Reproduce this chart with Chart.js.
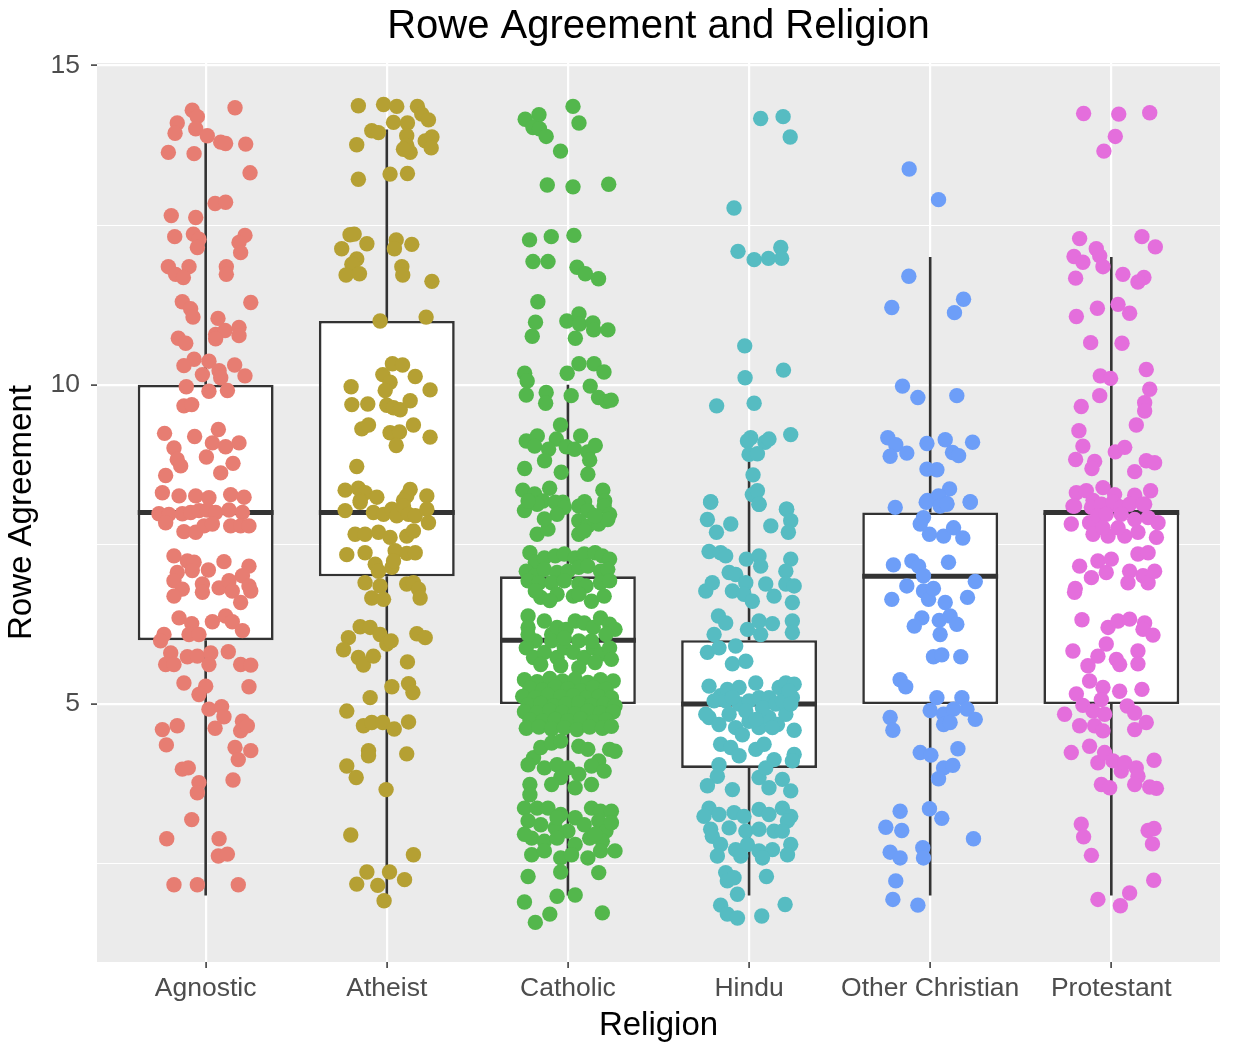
<!DOCTYPE html>
<html>
<head>
<meta charset="utf-8">
<title>Rowe Agreement and Religion</title>
<script src="https://cdn.jsdelivr.net/npm/chart.js@4.4.1/dist/chart.umd.min.js"></script>
<style>
  html, body { margin: 0; padding: 0; background: #ffffff; }
  canvas { display: block; }
</style>
</head>
<body>
<canvas id="myChart" width="1233" height="1057"></canvas>
<script>
// categories and box statistics
const religions = ["Agnostic", "Atheist", "Catholic", "Hindu", "Other Christian", "Protestant"];
const whiskerLow = [2, 2, 2, 2, 2, 2];
const q1 = [6, 7, 5, 4, 5, 5];
const medians = [8, 8, 6, 5, 7, 8];
const q3 = [10, 11, 7, 6, 8, 8];
const whiskerHigh = [13.85, 14, 10, 8.8, 12, 12];

// y axis ticks
const yMajor = [5, 10, 15];
const yMinor = [2.5, 7.5, 12.5];

// jittered points: [offset from category, value]
const agnosticPts = [
  [-0.074,14.30],[-0.046,14.20],[0.162,14.34],[-0.157,14.10],[-0.169,13.94],[-0.055,14.01],[0.009,13.90],[0.083,13.80],
  [0.110,13.78],[0.221,13.77],[-0.206,13.64],[-0.064,13.62],[0.245,13.32],[0.052,12.84],[0.110,12.86],[-0.190,12.65],
  [-0.055,12.62],[-0.171,12.32],[-0.068,12.36],[-0.037,12.28],[-0.046,12.15],[0.217,12.34],[0.184,12.23],[0.193,12.07],
  [-0.206,11.85],[-0.092,11.85],[-0.166,11.73],[-0.123,11.68],[0.114,11.85],[0.114,11.73],[-0.129,11.30],[-0.083,11.19],
  [-0.070,11.06],[0.249,11.29],[0.068,11.04],[0.055,10.79],[0.107,10.85],[0.055,10.72],[0.184,10.90],[0.184,10.77],
  [-0.151,10.73],[-0.110,10.65],[-0.064,10.40],[-0.120,10.30],[0.018,10.37],[-0.018,10.16],[0.074,10.22],[0.083,10.11],
  [0.160,10.31],[0.217,10.14],[-0.107,9.97],[0.018,9.90],[0.120,9.91],[-0.120,9.67],[-0.077,9.69],[-0.227,9.24],
  [-0.061,9.19],[0.070,9.30],[0.037,9.09],[0.110,9.03],[0.184,9.09],[-0.175,9.01],[-0.157,8.83],[-0.138,8.73],
  [0.004,8.87],[0.151,8.77],[-0.221,8.58],[0.083,8.62],[-0.239,8.31],[-0.147,8.26],[-0.055,8.26],[0.018,8.23],
  [0.138,8.28],[0.212,8.24],
  [-0.258,7.98],[-0.203,7.97],[-0.129,7.98],[-0.083,8.00],[-0.037,8.03],[0.009,8.04],[0.055,8.00],[0.129,8.04],
  [0.203,8.00],[-0.221,7.84],[-0.120,7.70],[-0.055,7.69],[-0.009,7.79],[0.037,7.82],[0.138,7.79],[0.193,7.79],
  [0.239,7.79],[-0.175,7.32],[-0.101,7.24],[-0.064,7.22],[-0.157,7.06],[-0.074,7.09],[0.015,7.10],[0.101,7.23],
  [0.239,7.16],[0.203,7.01],[-0.175,6.93],[-0.129,6.80],[-0.018,6.88],[-0.018,6.75],[-0.175,6.69],[0.074,6.82],
  [0.129,6.93],[0.147,6.77],[0.239,6.85],[0.249,6.77],[0.193,6.59],[-0.147,6.35],[-0.077,6.26],[-0.092,6.09],
  [-0.037,6.09],[0.037,6.29],[0.110,6.38],[0.147,6.29],[0.203,6.15],[-0.230,6.09],[-0.249,5.99],[-0.193,5.80],
  [-0.221,5.62],[-0.175,5.62],[-0.101,5.74],[-0.046,5.75],[0.028,5.80],[0.018,5.62],[0.125,5.82],[0.193,5.62],
  [0.249,5.61],[-0.120,5.33],[0.000,5.28],[-0.037,5.15],[0.239,5.27],[0.018,4.92],[0.088,4.96],[0.101,4.80],
  [0.052,4.62],[-0.239,4.60],[-0.157,4.66],[-0.217,4.36],[0.203,4.73],[0.193,4.58],[0.230,4.66],[0.162,4.32],
  [0.180,4.13],[0.249,4.27],[-0.129,3.98],[-0.096,4.00],[-0.037,3.77],[-0.046,3.61],[0.151,3.81],[-0.077,3.19],
  [-0.215,2.89],[0.074,2.89],[0.070,2.62],[0.120,2.65],[-0.175,2.17],[-0.046,2.17],[0.180,2.17]
];

const atheistPts = [
  [-0.157,14.37],[-0.018,14.39],[0.055,14.36],[0.169,14.36],[0.193,14.24],[0.230,14.15],[0.037,14.11],[0.114,14.10],
  [-0.083,13.98],[-0.046,13.95],[-0.166,13.76],[0.110,13.90],[0.110,13.75],[0.129,13.64],[0.092,13.69],[0.212,13.82],
  [0.249,13.88],[0.245,13.71],[-0.157,13.22],[0.018,13.30],[0.114,13.31],[-0.203,12.35],[-0.180,12.36],[-0.249,12.13],
  [-0.110,12.21],[0.052,12.27],[0.042,12.13],[0.138,12.20],[-0.166,11.97],[-0.193,11.89],[-0.225,11.72],[-0.151,11.74],
  [0.083,11.85],[0.088,11.72],[0.249,11.62],[-0.037,11.00],[0.217,11.06],[0.031,10.33],[0.087,10.31],[-0.022,10.16],
  [0.018,10.04],[0.157,10.13],[-0.009,9.91],[-0.197,9.97],[0.239,9.92],[-0.193,9.69],[-0.105,9.70],[0.000,9.68],
  [0.037,9.64],[0.074,9.61],[0.129,9.75],[-0.138,9.31],[-0.101,9.37],[0.018,9.25],[0.070,9.26],[0.052,9.05],
  [0.147,9.37],[0.239,9.18],[-0.166,8.72],[-0.230,8.35],[-0.157,8.38],[-0.120,8.31],[-0.055,8.24],[-0.147,8.19],
  [0.129,8.36],[0.110,8.26],[0.092,8.19],[0.221,8.26],
  [-0.230,8.03],[-0.147,8.16],[-0.074,8.00],[-0.018,7.97],[0.028,8.05],[0.055,7.95],[0.092,8.10],[0.120,7.97],
  [0.157,7.95],[0.221,8.05],[0.230,7.84],[-0.175,7.66],[-0.120,7.66],[-0.046,7.69],[0.018,7.61],[0.110,7.63],
  [0.147,7.71],[-0.221,7.34],[-0.120,7.37],[0.046,7.40],[0.110,7.36],[0.157,7.37],[-0.064,7.19],[-0.046,7.08],
  [0.028,7.14],[0.037,7.24],[-0.120,6.90],[-0.037,6.85],[-0.083,6.66],[-0.018,6.64],[0.110,6.88],[0.147,6.90],
  [0.175,6.80],[0.184,6.66],[-0.147,6.21],[-0.092,6.20],[-0.212,6.04],[-0.239,5.85],[-0.037,6.09],[0.000,5.94],
  [0.024,5.99],[0.166,6.10],[0.212,6.04],[-0.157,5.73],[-0.129,5.61],[-0.074,5.75],[0.114,5.66],[0.028,5.27],
  [0.120,5.32],[0.144,5.18],[-0.092,5.10],[-0.221,4.89],[-0.129,4.66],[-0.083,4.71],[-0.022,4.71],[0.041,4.61],
  [0.120,4.72],[-0.101,4.27],[-0.101,4.19],[0.110,4.22],[-0.221,4.03],[-0.169,3.85],[-0.004,3.66],[-0.199,2.95],
  [0.147,2.64],[-0.110,2.37],[0.015,2.37],[-0.166,2.18],[-0.050,2.16],[0.098,2.25],[-0.015,1.92]
];

const catholicPts = [
  [0.028,14.36],[-0.160,14.23],[-0.236,14.16],[-0.193,14.03],[-0.157,14.01],[-0.120,13.89],[0.061,14.10],[-0.041,13.66],
  [-0.114,13.13],[0.028,13.10],[0.225,13.14],[-0.212,12.27],[-0.092,12.32],[0.033,12.34],[-0.193,11.93],[-0.110,11.93],
  [0.050,11.84],[0.096,11.74],[0.169,11.66],[-0.166,11.30],[-0.179,10.98],[-0.197,10.76],[-0.006,11.00],[0.061,11.11],
  [0.064,10.95],[0.138,10.97],[0.142,10.86],[0.221,10.86],[0.041,10.73],[-0.239,10.18],[-0.225,10.06],[-0.004,10.18],
  [0.061,10.33],[0.144,10.33],[0.199,10.20],[-0.230,9.84],[-0.120,9.88],[-0.123,9.71],[0.018,9.83],[0.123,9.98],
  [0.169,9.80],[0.212,9.74],[0.239,9.76],[-0.041,9.37],[-0.230,9.12],[-0.169,9.20],[-0.184,9.04],[-0.064,9.15],
  [-0.107,8.99],[-0.129,8.81],[-0.009,9.03],[0.037,8.99],[0.070,9.20],[0.110,8.95],[0.151,9.05],[0.120,8.82],
  [0.110,8.60],[-0.239,8.69],[-0.037,8.63],[-0.249,8.35],[-0.184,8.29],[-0.101,8.38],[-0.138,8.18],[-0.028,8.16],
  [0.092,8.17],[0.193,8.35],[0.203,8.18],
  [-0.24,8.03],[-0.17,8.13],[-0.07,8.16],[-0.02,8.08],[0.06,8.10],[0.11,8.03],[0.20,8.10],[0.23,7.97],
  [0.06,7.87],[0.11,7.79],[0.17,7.82],[0.22,7.89],[-0.17,7.66],[-0.11,7.74],[0.06,7.66],[0.09,7.71],
  [-0.06,7.97],[-0.22,8.18],[0.15,7.95],[-0.13,7.90],
  [-0.21,7.37],[-0.18,7.22],[-0.13,7.29],[-0.07,7.32],[-0.02,7.35],[0.04,7.29],[0.09,7.35],[0.15,7.37],
  [0.19,7.32],[0.23,7.27],[-0.23,7.08],[-0.18,7.01],[-0.13,7.11],[-0.06,7.06],[0.00,7.08],[0.06,7.14],
  [0.11,7.16],[0.18,7.08],[0.22,7.11],[-0.22,6.93],[-0.16,6.90],[-0.09,6.90],[-0.02,6.93],[0.06,6.88],
  [0.10,6.85],[0.18,6.90],[0.23,6.93],[-0.15,6.67],[-0.06,6.72],[0.03,6.69],[0.13,6.61],[0.20,6.69],
  [-0.18,6.77],[0.06,6.72],[-0.10,6.62],
  [-0.22,6.38],[-0.13,6.30],[-0.22,6.20],[-0.18,5.99],[-0.09,6.09],[-0.06,6.20],[-0.01,6.17],[0.04,6.30],
  [0.09,6.27],[0.14,6.20],[0.18,6.35],[0.23,6.25],[0.26,6.17],[0.21,6.09],[-0.23,5.88],[-0.19,5.73],
  [-0.13,5.81],[-0.06,5.73],[-0.02,5.88],[0.03,5.81],[0.09,5.73],[0.14,5.88],[0.18,5.78],[0.23,5.88],
  [0.24,5.70],[-0.09,5.99],[0.06,5.99],[0.13,5.99],[-0.04,5.60],[0.06,5.57],[0.15,5.65],[-0.15,5.62],
  [-0.22,6.09],[-0.02,6.03],
  [-0.24,5.38],[-0.17,5.35],[-0.10,5.40],[-0.03,5.36],[0.04,5.39],[0.11,5.34],[0.18,5.38],[0.25,5.36],
  [-0.21,5.25],[-0.14,5.22],[-0.07,5.27],[0.00,5.24],[0.07,5.21],[0.14,5.26],[0.21,5.23],
  [-0.25,5.12],[-0.18,5.10],[-0.11,5.14],[-0.04,5.11],[0.03,5.13],[0.10,5.09],[0.17,5.12],[0.24,5.10],
  [-0.22,4.99],[-0.15,5.01],[-0.08,4.97],[-0.01,5.00],[0.06,5.02],[0.13,4.98],[0.20,5.00],[0.26,4.97],
  [-0.24,4.88],[-0.17,4.86],[-0.10,4.90],[-0.03,4.87],[0.04,4.85],[0.11,4.89],[0.18,4.86],[0.25,4.88],
  [-0.21,4.75],[-0.14,4.73],[-0.07,4.76],[0.00,4.74],[0.07,4.77],[0.14,4.72],[0.21,4.75],
  [-0.23,4.62],[-0.16,4.64],[-0.09,4.61],[-0.02,4.63],[0.05,4.60],[0.12,4.64],[0.19,4.62],[0.24,4.65],
  [-0.19,4.16],[-0.15,4.32],[-0.09,4.39],[-0.04,4.42],[0.06,4.34],[0.11,4.29],[0.23,4.29],[0.26,4.26],
  [0.17,4.11],[0.13,4.03],[-0.13,4.00],[-0.06,4.05],[0.00,4.00],[0.06,3.90],[-0.04,3.85],[0.04,3.69],
  [-0.21,3.74],[-0.21,3.58],[-0.09,3.74],[0.13,3.74],[-0.22,4.05],[0.20,3.95],
  [-0.24,3.37],[-0.17,3.37],[-0.11,3.37],[-0.04,3.27],[0.04,3.22],[0.13,3.37],[0.18,3.32],[0.24,3.32],
  [-0.22,3.17],[-0.15,3.11],[-0.07,3.06],[0.00,3.01],[0.09,3.11],[0.17,3.17],[0.21,3.01],[-0.20,2.90],
  [-0.13,2.85],[-0.06,2.90],[0.04,2.80],[0.12,2.90],[0.19,2.85],[-0.20,2.64],[-0.13,2.70],[-0.04,2.59],
  [0.02,2.64],[0.11,2.59],[0.18,2.70],[0.26,2.70],[-0.24,2.96],[0.15,2.96],[-0.06,3.22],[0.24,3.14],
  [-0.22,2.30],[-0.04,2.37],[0.17,2.36],[-0.24,1.90],[-0.06,1.99],[0.04,2.01],[-0.10,1.71],[-0.18,1.58],
  [0.19,1.73]
];

const hinduPts = [
  [0.064,14.17],[0.188,14.20],[0.227,13.88],[-0.083,12.77],[-0.061,12.09],[0.028,11.96],[0.107,11.98],[0.175,12.15],
  [0.180,11.98],[-0.024,10.61],[-0.022,10.11],[0.190,10.23],[-0.179,9.67],[0.028,9.71],[0.009,9.17],[-0.009,9.12],
  [0.088,9.10],[0.110,9.15],[0.230,9.22],[0.000,8.91],[0.046,8.92],[0.022,8.59],[0.018,8.28],[0.046,8.34],
  [0.055,8.13],[-0.212,8.17],[0.206,8.05],
  [-0.212,8.16],[0.055,8.13],[0.208,8.05],[0.230,7.87],[-0.230,7.89],[-0.101,7.82],[-0.180,7.69],[0.120,7.79],
  [0.217,7.69],[-0.221,7.39],[-0.157,7.37],[-0.129,7.32],[-0.015,7.27],[0.055,7.32],[0.064,7.16],[0.230,7.27],
  [0.203,7.08],[-0.110,7.06],[-0.074,7.03],[-0.239,6.77],[-0.203,6.90],[-0.092,6.77],[-0.018,6.90],[-0.028,6.72],
  [0.018,6.61],[0.092,6.88],[0.138,6.69],[0.203,6.88],[0.249,6.85],[0.239,6.59],[-0.169,6.38],[-0.129,6.27],
  [-0.193,6.09],[-0.009,6.17],[0.055,6.30],[0.064,6.09],[0.129,6.26],[0.239,6.30],[0.239,6.12],[-0.230,5.81],
  [-0.166,5.88],[-0.074,5.91],[-0.092,5.63],[-0.018,5.67],[-0.221,5.28],[-0.157,5.13],[-0.120,5.23],[-0.055,5.26],
  [0.037,5.33],[-0.193,5.05],[-0.129,5.05],[-0.055,5.00],[0.000,5.05],[0.055,5.10],[0.110,5.10],[0.166,5.26],
  [0.203,5.33],[0.249,5.31],[0.239,5.10],[-0.221,4.79],[-0.166,4.68],[-0.074,4.63],[0.000,4.73],[0.055,4.63],
  [0.110,4.79],[0.157,4.68],[0.203,4.84],[0.249,4.59],[-0.092,5.10],[-0.018,4.89],[0.074,4.94],[0.147,5.00],
  [0.203,5.15],[-0.239,4.84],[-0.110,4.84],[0.037,4.76],[0.129,4.63],[-0.037,4.52],[0.184,5.05],[0.221,5.20],
  [0.230,5.00],[-0.157,4.37],[-0.101,4.32],[-0.055,4.19],[0.037,4.29],[0.083,4.37],[0.138,4.13],[0.249,4.21],
  [0.239,4.11],[-0.166,4.05],[-0.175,3.87],[-0.230,3.72],[-0.092,3.66],[0.055,3.85],[0.092,4.00],[0.110,3.69],
  [0.184,3.82],[0.230,3.64],[-0.221,3.37],[-0.249,3.24],[-0.166,3.27],[-0.212,3.04],[-0.203,2.93],[-0.083,3.30],
  [-0.028,3.24],[0.055,3.35],[0.110,3.27],[0.184,3.37],[0.230,3.24],[0.212,3.17],[-0.110,3.06],[-0.018,3.01],
  [0.055,3.04],[0.138,3.01],[0.184,3.01],[-0.157,2.80],[-0.074,2.72],[-0.009,2.80],[0.055,2.70],[0.129,2.72],
  [0.230,2.80],[-0.175,2.62],[-0.046,2.62],[0.074,2.59],[0.212,2.64],[-0.129,2.36],[-0.120,2.23],[-0.083,2.28],
  [0.096,2.30],[-0.064,2.02],[-0.157,1.85],[-0.120,1.71],[-0.064,1.65],[0.070,1.68],[0.199,1.86]
];

const otherChristianPts = [
  [-0.116,13.38],[0.046,12.90],[-0.118,11.70],[-0.212,11.21],[0.184,11.34],[0.134,11.13],[-0.153,9.98],[-0.068,9.80],
  [0.147,9.83],[-0.234,9.17],[-0.190,9.06],[-0.221,8.88],[-0.129,8.93],[-0.018,9.08],[0.083,9.14],[0.234,9.10],
  [0.123,8.94],[0.157,8.89],[-0.018,8.68],[0.037,8.67],[0.107,8.37],[-0.015,8.19],[0.046,8.26],[0.092,8.14],
  [0.221,8.17],[-0.193,8.08],
  [-0.022,8.16],[0.055,8.10],[0.092,8.13],[0.221,8.16],[-0.037,7.92],[-0.055,7.82],[-0.004,7.66],[0.074,7.63],
  [0.129,7.76],[0.180,7.60],[-0.203,7.18],[-0.101,7.24],[-0.064,7.16],[-0.037,7.01],[0.101,7.22],[-0.129,6.85],
  [-0.037,6.77],[-0.009,6.64],[0.018,6.81],[0.083,6.59],[-0.212,6.64],[0.206,6.67],[0.249,6.92],[-0.046,6.35],
  [-0.088,6.22],[0.050,6.31],[0.110,6.38],[0.147,6.25],[0.055,6.09],[0.018,5.74],[0.064,5.77],[0.169,5.74],
  [-0.166,5.38],[-0.135,5.27],[0.037,5.10],[0.175,5.10],[0.000,4.90],[0.074,4.84],[0.129,4.92],[0.203,4.92],
  [0.249,4.76],[0.074,4.68],[0.110,4.71],[-0.221,4.79],[-0.206,4.59],[-0.055,4.24],[0.004,4.20],[0.153,4.30],
  [0.074,4.00],[0.125,4.04],[0.046,3.83],[-0.166,3.32],[-0.004,3.36],[0.064,3.21],[-0.245,3.07],[-0.157,3.02],
  [0.239,2.89],[-0.221,2.68],[-0.166,2.59],[-0.041,2.75],[-0.037,2.59],[-0.190,2.23],[-0.206,1.94],[-0.068,1.85]
];

const protestantPts = [
  [-0.153,14.25],[0.041,14.24],[0.212,14.26],[0.022,13.89],[-0.041,13.66],[-0.175,12.29],[0.169,12.32],[0.243,12.16],
  [-0.083,12.13],[-0.064,12.02],[-0.206,12.01],[-0.157,11.92],[-0.046,11.85],[0.064,11.73],[0.180,11.68],[0.147,11.61],
  [-0.197,11.67],[0.037,11.26],[-0.077,11.20],[0.101,11.12],[-0.193,11.07],[-0.114,10.66],[0.059,10.65],[0.193,10.24],
  [-0.061,10.14],[-0.004,10.10],[0.212,9.93],[0.184,9.72],[0.184,9.59],[-0.064,9.83],[-0.166,9.66],[0.138,9.37],
  [-0.179,9.28],[-0.157,9.04],[0.022,8.95],[0.074,9.02],[-0.197,8.83],[-0.092,8.80],[-0.107,8.69],[0.193,8.81],
  [0.239,8.78],[0.129,8.64],[-0.046,8.39],[-0.193,8.31],[-0.138,8.34],[-0.101,8.19],[0.018,8.28],[0.129,8.27],
  [0.217,8.34],[-0.212,8.10],[0.037,8.10],[0.184,8.13],
  [-0.203,8.10],[-0.110,8.08],[-0.055,8.13],[0.009,8.16],[0.055,8.08],[0.101,8.13],[0.175,8.13],[-0.221,7.82],
  [-0.120,7.84],[-0.074,7.95],[-0.028,7.97],[0.055,7.97],[0.129,7.89],[0.203,7.92],[0.258,7.84],[-0.101,7.66],
  [-0.018,7.63],[0.074,7.63],[0.147,7.69],[0.249,7.61],[0.037,7.76],[-0.046,7.76],[0.147,7.35],[0.203,7.37],
  [-0.175,7.16],[-0.110,6.98],[-0.074,7.24],[-0.028,7.06],[0.000,7.27],[0.101,7.08],[0.092,6.90],[0.175,7.01],
  [0.203,6.90],[0.239,7.08],[-0.199,6.81],[-0.203,6.75],[-0.162,6.32],[-0.018,6.20],[0.037,6.30],[0.101,6.33],
  [0.184,6.27],[0.175,6.17],[0.230,6.08],[-0.212,5.83],[-0.074,5.75],[-0.028,5.94],[0.028,5.70],[0.046,5.62],
  [0.147,5.83],[0.147,5.63],[-0.129,5.60],[-0.120,5.36],[-0.193,5.16],[-0.046,5.26],[-0.055,5.07],[0.046,5.20],
  [0.169,5.23],[-0.157,4.98],[-0.101,4.89],[-0.037,4.84],[0.088,4.97],[0.129,4.86],[-0.258,4.84],[-0.175,4.66],
  [-0.092,4.66],[-0.046,4.58],[0.129,4.60],[0.193,4.71],[-0.221,4.24],[-0.120,4.34],[-0.074,4.08],[-0.037,4.24],
  [0.009,4.11],[0.055,3.95],[0.074,4.08],[0.138,4.00],[0.147,3.87],[0.129,3.74],[0.236,4.12],[-0.055,3.74],
  [-0.009,3.69],[0.212,3.70],[0.249,3.68],[-0.166,3.12],[-0.153,2.92],[-0.110,2.63],[0.203,3.02],[0.236,3.05],
  [0.227,2.81],[0.234,2.24],[-0.074,1.94],[0.050,1.84],[0.101,2.04]
];

const pointSets = [agnosticPts, atheistPts, catholicPts, hinduPts, otherChristianPts, protestantPts];
const colors = ["#e77d72", "#b5a033", "#53b74c", "#56bcc2", "#6d9ef8", "#e46edc"];

const BOX_WIDTH = 0.75;
const FONT = "'Liberation Sans', Arial, Helvetica, sans-serif";
Chart.defaults.font.family = FONT;

// grey panel behind the plot like ggplot's theme_gray
const panelBg = {
  id: "panelBg",
  beforeDraw(chart) {
    const { ctx, chartArea: a } = chart;
    ctx.save();
    ctx.fillStyle = "#ebebeb";
    ctx.fillRect(a.left, a.top, a.right - a.left, a.bottom - a.top);
    ctx.restore();
  }
};

const whiskerData = [];
const medianData = [];
religions.forEach((r, i) => {
  const x = i + 1;
  whiskerData.push({ x, y: whiskerLow[i] }, { x, y: q1[i] }, { x, y: null });
  whiskerData.push({ x, y: q3[i] }, { x, y: whiskerHigh[i] }, { x, y: null });
  medianData.push({ x: x - BOX_WIDTH / 2, y: medians[i] }, { x: x + BOX_WIDTH / 2, y: medians[i] }, { x, y: null });
});

const datasets = [
  {
    type: "line",
    label: "whiskers",
    data: whiskerData,
    borderColor: "#333333",
    borderWidth: 2.6,
    pointRadius: 0,
    spanGaps: false,
    fill: false,
    order: 10
  },
  {
    type: "bar",
    label: "boxes",
    data: religions.map((r, i) => ({ x: i + 1, y: [q1[i], q3[i]] })),
    backgroundColor: "#ffffff",
    borderColor: "#333333",
    borderWidth: 2.6,
    borderSkipped: false,
    categoryPercentage: 1,
    barPercentage: BOX_WIDTH,
    order: 9
  },
  {
    type: "line",
    label: "medians",
    data: medianData,
    borderColor: "#333333",
    borderWidth: 5,
    borderCapStyle: "butt",
    pointRadius: 0,
    spanGaps: false,
    fill: false,
    order: 8
  }
];

pointSets.forEach((pts, i) => {
  datasets.push({
    type: "scatter",
    label: religions[i],
    data: pts.map(p => ({ x: i + 1 + p[0], y: p[1] })),
    backgroundColor: colors[i],
    borderWidth: 0,
    pointRadius: 7.7,
    pointHoverRadius: 7.7,
    order: 1
  });
});

const isMajor = v => yMajor.includes(v);

new Chart(document.getElementById("myChart"), {
  type: "bar",
  data: { datasets },
  plugins: [panelBg],
  options: {
    responsive: false,
    animation: false,
    events: [],
    layout: { padding: { left: 0, right: 13, top: 0, bottom: 0 } },
    plugins: {
      legend: { display: false },
      tooltip: { enabled: false },
      title: {
        display: true,
        fullSize: false,
        text: "Rowe Agreement and Religion",
        color: "#000000",
        font: { size: 40, weight: "normal", family: FONT },
        padding: { top: 3, bottom: 12 }
      }
    },
    scales: {
      x: {
        type: "linear",
        min: 0.4,
        max: 6.6,
        offset: false,
        afterBuildTicks: s => { s.ticks = religions.map((r, i) => ({ value: i + 1 })); },
        afterFit: s => { s.height = 95; },
        grid: { offset: false, color: "#ffffff", lineWidth: 2.2, tickLength: 6, tickColor: "#333333", tickWidth: 1.5 },
        border: { display: false },
        ticks: {
          autoSkip: false,
          maxRotation: 0,
          padding: 5,
          color: "#4d4d4d",
          font: { size: 26.5 },
          callback: v => religions[Math.round(v) - 1]
        },
        title: {
          display: true,
          text: "Religion",
          color: "#000000",
          font: { size: 33 },
          padding: { top: 0, bottom: 11 }
        }
      },
      y: {
        type: "linear",
        min: 0.96,
        max: 15.04,
        afterBuildTicks: s => {
          s.ticks = yMinor.concat(yMajor).sort((a, b) => a - b).map(v => ({ value: v }));
        },
        afterFit: s => { s.width = 97; },
        grid: {
          color: "#ffffff",
          lineWidth: c => (c.tick && isMajor(c.tick.value) ? 2.2 : 1.1),
          tickLength: 6,
          tickWidth: 1.5,
          tickColor: c => (c.tick && isMajor(c.tick.value) ? "#333333" : "rgba(0,0,0,0)")
        },
        border: { display: false },
        ticks: {
          autoSkip: false,
          padding: 11,
          color: "#4d4d4d",
          font: { size: 26.5 },
          callback: v => (isMajor(v) ? String(v) : "")
        },
        title: {
          display: true,
          text: "Rowe Agreement",
          color: "#000000",
          font: { size: 33 },
          padding: { top: 2, bottom: 0 }
        }
      }
    }
  }
});
</script>
</body>
</html>
